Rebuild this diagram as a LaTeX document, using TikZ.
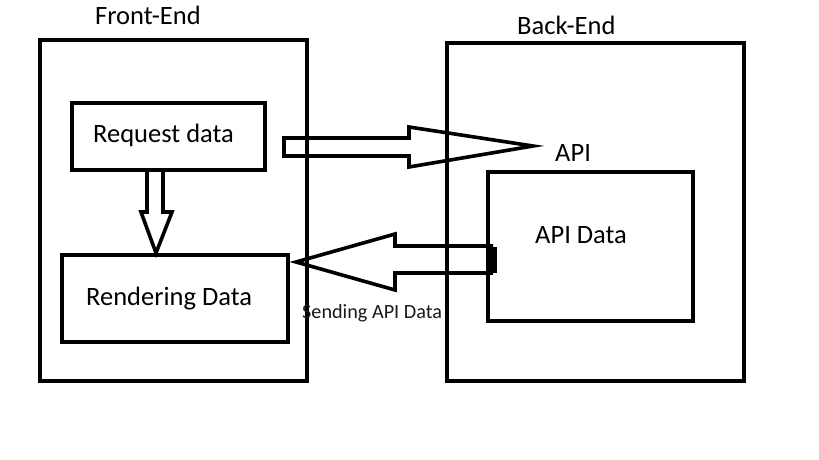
\documentclass[tikz,border=0pt]{standalone}
\usepackage{fontspec}
\setmainfont{Carlito}
\begin{document}
\begin{tikzpicture}[x=1pt,y=-1pt,
  box/.style={draw=black, line width=4pt, inner sep=0pt, outer sep=0pt, anchor=north west},
  blockarrow/.style={draw=black, line width=3.6pt, line join=miter},
  lbl/.style={anchor=base west, inner sep=0pt, font=\fontsize{26.5}{30}\selectfont},
  small/.style={anchor=base west, inner sep=0pt, font=\fontsize{20.2}{23}\selectfont, text=black!90}]
\fill[white] (0,0) rectangle (819,460);
\useasboundingbox (0,0) rectangle (819,460);
% outer boxes
\node[box, minimum width=267pt, minimum height=341pt] (fe) at (40,40) {};
\node[box, minimum width=297pt, minimum height=338pt] (be) at (447,43) {};
% inner boxes
\node[box, minimum width=193pt, minimum height=67pt] (req) at (72,103) {};
\node[box, minimum width=226pt, minimum height=87pt] (ren) at (62,255) {};
\node[box, minimum width=205pt, minimum height=149pt] (apid) at (488,172) {};
% labels
\node[lbl] (tfe) at (95,25) {Front-End};
\node[lbl] (tbe) at (517,35) {Back-End};
\node[lbl] (treq) at (93,142) {Request data};
\node[lbl] (tren) at (86,305) {Rendering Data};
\node[lbl] (tapi) at (555,161) {API};
\node[lbl] (tapid) at (535,243) {API Data};
\node[small] (tsend) at (302,318) {Sending API Data};
% right block arrow (request -> API)
\draw[blockarrow] (284,138) -- (409,138) -- (409,127) -- (533,146) -- (409,167) -- (409,156) -- (284,156) -- cycle;
% left block arrow (API Data -> Rendering)
\draw[blockarrow] (493,246) -- (395,246) -- (395,234) -- (296,262) -- (395,290) -- (395,273) -- (493,273);
\fill[black] (489,247) rectangle (497,273);
% down block arrow (Request -> Rendering)
\draw[blockarrow] (147,172) -- (147,212) -- (141,212) -- (156,253) -- (172,212) -- (163,212) -- (163,172);
\end{tikzpicture}
\end{document}
